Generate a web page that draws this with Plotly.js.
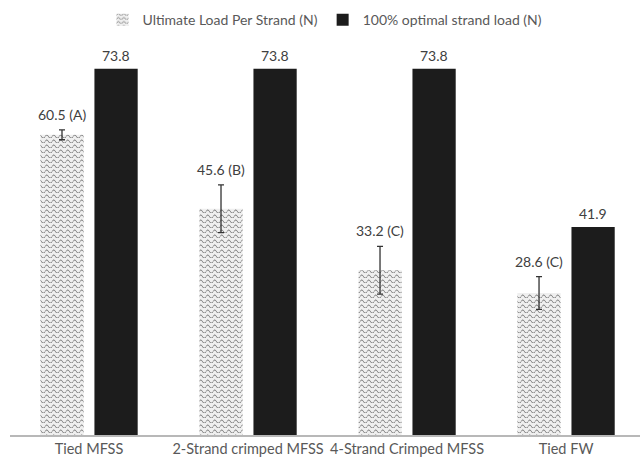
<!DOCTYPE html>
<html>
<head>
<meta charset="utf-8">
<script src="https://cdn.plot.ly/plotly-3.0.1.min.js"></script>
<style>
  html, body { margin: 0; padding: 0; background: #fff; }
  #chart { width: 640px; height: 457px; }
</style>
</head>
<body>
<div id="chart"></div>
<script>
// Strand configurations
const categories = ['Tied MFSS', '2-Strand crimped MFSS', '4-Strand Crimped MFSS', 'Tied FW'];

// Measured ultimate load per strand (N), with standard deviation and grouping letter
const ultimateLoad = [60.5, 45.6, 33.2, 28.6];
const ultimateErr = [1.0, 4.8, 4.8, 3.3];
const groupLetters = ['A', 'B', 'C', 'C'];

// 100% optimal strand load (N)
const optimalLoad = [73.8, 73.8, 73.8, 41.9];

const seriesNames = ['Ultimate Load Per Strand (N)', '100% optimal strand load (N)'];

const FONT = 'Lato, "Open Sans", sans-serif';
const TEXT_GREY = '#595959';
const LABEL_GREY = '#404040';

const traces = [
  {
    type: 'bar',
    name: seriesNames[0],
    x: categories,
    y: ultimateLoad,
    marker: {
      color: '#eeeeee',
      line: { width: 0 },
      pattern: { shape: '-', fgcolor: '#7a7a7a', bgcolor: '#eeeeee', size: 6, solidity: 0.2 }
    },
    error_y: { type: 'data', array: ultimateErr, visible: true, color: '#333333', thickness: 1.3, width: 3 },
    hoverinfo: 'skip'
  },
  {
    type: 'bar',
    name: seriesNames[1],
    x: categories,
    y: optimalLoad,
    marker: { color: '#1c1c1c', line: { width: 0 } },
    hoverinfo: 'skip'
  }
];

// Value labels: each one sits just above its bar (and above the error bar for measured loads)
const annotations = [];
categories.forEach((c, i) => {
  annotations.push({
    x: i, y: ultimateLoad[i] + ultimateErr[i], xref: 'x', yref: 'y',
    text: ultimateLoad[i].toFixed(1) + ' (' + groupLetters[i] + ')',
    showarrow: false, xanchor: 'center', yanchor: 'bottom',
    xshift: -27, yshift: 5,
    font: { family: FONT, size: 14, color: LABEL_GREY }
  });
  annotations.push({
    x: i, y: optimalLoad[i], xref: 'x', yref: 'y',
    text: optimalLoad[i].toFixed(1),
    showarrow: false, xanchor: 'center', yanchor: 'bottom',
    xshift: 27, yshift: 3,
    font: { family: FONT, size: 14, color: LABEL_GREY }
  });
});

const layout = {
  width: 640,
  height: 457,
  margin: { l: 10, r: 0, t: 38, b: 22 },
  paper_bgcolor: '#ffffff',
  plot_bgcolor: '#ffffff',
  barmode: 'group',
  bargap: 0.32,
  bargroupgap: 0.2,
  showlegend: true,
  legend: {
    orientation: 'h',
    x: 0.5, xanchor: 'center',
    y: 1.045, yanchor: 'middle',
    font: { family: FONT, size: 14, color: TEXT_GREY },
    itemwidth: 30,
    traceorder: 'normal'
  },
  xaxis: {
    type: 'category',
    range: [-0.497, 3.465],
    showline: true,
    linecolor: '#b8b8b8',
    linewidth: 2,
    ticks: '',
    tickangle: 0,
    showgrid: false,
    zeroline: false,
    tickfont: { family: FONT, size: 14.5, color: TEXT_GREY },
    automargin: false
  },
  yaxis: {
    range: [0, 80],
    visible: false,
    showgrid: false,
    zeroline: false
  },
  annotations: annotations,
  font: { family: FONT }
};

// Replace the straight-line fill of the patterned bars with a wavy texture
function waveTexture(gd) {
  gd.querySelectorAll('defs pattern').forEach(p => {
    p.setAttribute('width', 7);
    p.setAttribute('height', 5);
    p.querySelectorAll('rect').forEach(r => {
      r.setAttribute('width', 7);
      r.setAttribute('height', 5);
      r.setAttribute('fill', '#efefef');
      r.style.fill = '#efefef';
    });
    p.querySelectorAll('path').forEach(path => {
      path.setAttribute('d', 'M0,3.6 Q1.75,0.4 3.5,3.6 T7,3.6');
      path.style.stroke = '#6f6f6f';
      path.style.strokeWidth = '1';
      path.style.fill = 'none';
    });
  });
}

const gd = document.getElementById('chart');
Plotly.newPlot(gd, traces, layout, { staticPlot: true, displayModeBar: false })
  .then(() => waveTexture(gd));
</script>
</body>
</html>
